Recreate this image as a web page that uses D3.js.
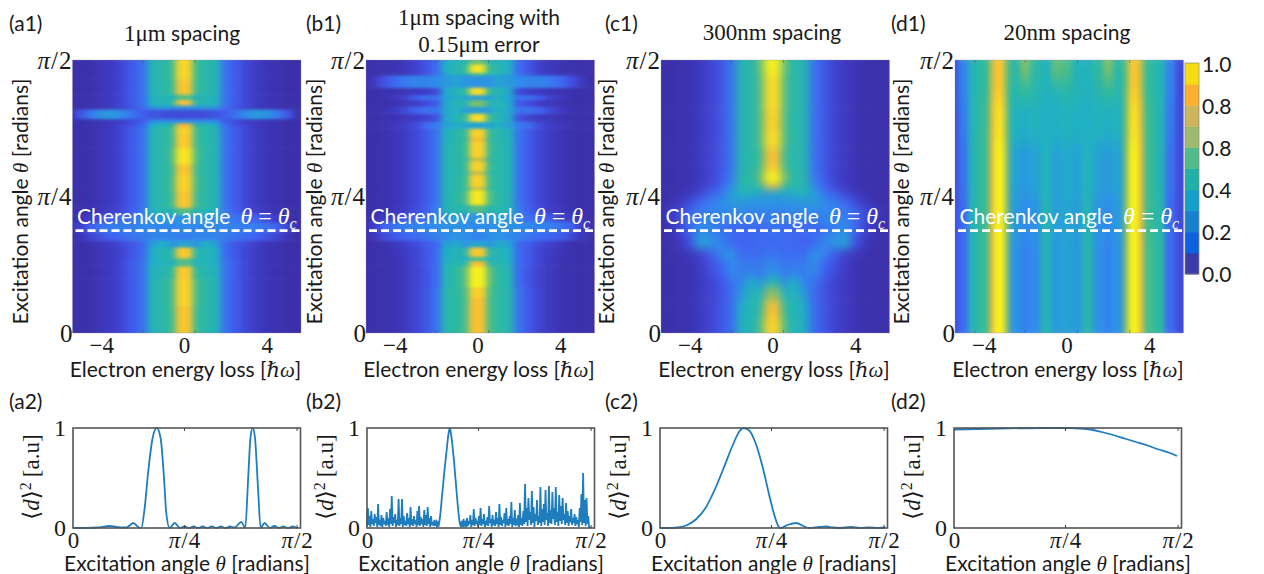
<!DOCTYPE html>
<html>
<head>
<meta charset="utf-8">
<script src="https://cdn.jsdelivr.net/npm/d3@7"></script>
<style>
  body { margin: 0; background: #fff; }
  text { font-family: Lato, "Open Sans", sans-serif; fill: #1a1a1a; }
  .serif { font-family: "Liberation Serif", "DejaVu Serif", serif; }
  .math { font-family: "Liberation Serif", "DejaVu Serif", serif; font-style: italic; }
</style>
</head>
<body>
<div id="chart"></div>
<script>
// half profiles: energy bins are mirrored around 0 for the three left maps
const halfEdges = [0.4, 0.75, 1.25, 1.75, 2.25, 2.75, 3.25, 3.75, 4.25, 4.75, 5.25, 6];

const a1Theta = [-0.05, 0.1, 0.2, 0.245, 0.275, 0.315, 0.34, 0.37, 0.405, 0.435, 0.46, 0.52, 0.58, 0.62, 0.68, 0.73, 0.755, 0.77, 0.785, 0.82, 0.835, 0.855, 0.875, 0.93, 1.05];
const a1Values = [
  [.88,.52,.45,.42,.22,.16,.11,.07,.04,.02,.01,.01],
  [.92,.54,.45,.42,.22,.16,.11,.07,.04,.02,.01,.01],
  [.9,.48,.43,.4,.22,.16,.11,.07,.04,.02,.01,.01],
  [.55,.4,.42,.38,.22,.16,.11,.07,.04,.02,.01,.01],
  [.9,.44,.42,.38,.2,.15,.1,.07,.04,.02,.01,.01],
  [.35,.3,.38,.34,.2,.15,.12,.08,.05,.02,.01,.01],
  [.25,.26,.26,.26,.24,.22,.2,.18,.14,.1,.04,.01],
  [.28,.26,.27,.27,.27,.25,.25,.25,.22,.18,.1,.02],
  [.3,.3,.32,.3,.26,.22,.2,.18,.13,.08,.03,.01],
  [.55,.42,.42,.4,.24,.17,.12,.09,.05,.03,.01,.01],
  [.88,.52,.45,.42,.22,.16,.11,.07,.04,.02,.01,.01],
  [.92,.54,.45,.42,.22,.16,.11,.07,.04,.02,.01,.01],
  [.88,.52,.45,.42,.22,.16,.11,.07,.04,.02,.01,.01],
  [.97,.56,.45,.42,.22,.16,.11,.07,.04,.02,.01,.01],
  [.9,.52,.45,.42,.22,.16,.11,.07,.04,.02,.01,.01],
  [.92,.52,.45,.42,.22,.16,.11,.07,.04,.02,.01,.01],
  [.8,.45,.42,.38,.2,.14,.1,.06,.04,.02,.01,.01],
  [.3,.28,.3,.28,.16,.12,.08,.06,.03,.02,.01,.01],
  [.12,.12,.13,.14,.17,.22,.28,.32,.3,.24,.15,.03],
  [.3,.3,.32,.3,.2,.14,.1,.06,.04,.02,.01,.01],
  [.85,.45,.42,.4,.22,.16,.11,.07,.04,.02,.01,.01],
  [.55,.4,.42,.4,.22,.16,.11,.07,.04,.02,.01,.01],
  [.88,.5,.45,.42,.22,.16,.11,.07,.04,.02,.01,.01],
  [.93,.52,.45,.42,.22,.16,.11,.07,.04,.02,.01,.01]
];

const b1Theta = [-0.05, 0.13, 0.17, 0.245, 0.265, 0.28, 0.315, 0.34, 0.37, 0.41, 0.44, 0.47, 0.525, 0.535, 0.58, 0.595, 0.63, 0.645, 0.705, 0.715, 0.75, 0.775, 0.805, 0.83, 0.855, 0.873, 0.9, 0.945, 0.955, 0.985, 1.05];
const b1Values = [
  [.86,.54,.47,.44,.22,.15,.1,.06,.03,.02,.01,.01],
  [.92,.55,.47,.44,.22,.15,.1,.06,.03,.02,.01,.01],
  [1,.6,.47,.42,.2,.14,.1,.06,.03,.02,.01,.01],
  [.85,.45,.44,.4,.2,.15,.1,.06,.03,.02,.01,.01],
  [.5,.38,.42,.38,.2,.15,.1,.06,.03,.02,.01,.01],
  [.9,.44,.42,.38,.2,.15,.1,.07,.04,.02,.01,.01],
  [.35,.3,.36,.34,.2,.16,.12,.09,.05,.02,.01,.01],
  [.26,.28,.3,.28,.25,.22,.2,.18,.16,.12,.05,.01],
  [.28,.28,.3,.3,.28,.27,.26,.25,.22,.18,.08,.02],
  [.3,.32,.34,.3,.26,.2,.18,.15,.1,.06,.02,.01],
  [.55,.42,.44,.42,.24,.17,.12,.08,.05,.03,.01,.01],
  [.98,.54,.46,.42,.22,.16,.11,.07,.04,.02,.01,.01],
  [.7,.46,.45,.42,.22,.16,.11,.07,.04,.02,.01,.01],
  [.92,.5,.45,.42,.22,.16,.11,.07,.04,.02,.01,.01],
  [.72,.46,.45,.42,.22,.16,.11,.07,.04,.02,.01,.01],
  [.92,.5,.45,.42,.22,.16,.11,.07,.04,.02,.01,.01],
  [.72,.46,.45,.42,.22,.16,.11,.07,.04,.02,.01,.01],
  [.92,.5,.45,.42,.22,.16,.11,.07,.04,.02,.01,.01],
  [.8,.46,.45,.4,.22,.16,.11,.07,.04,.02,.01,.01],
  [.92,.5,.44,.4,.22,.16,.11,.07,.04,.02,.01,.01],
  [.35,.35,.38,.34,.24,.2,.12,.08,.05,.03,.01,.01],
  [.95,.5,.42,.36,.14,.1,.07,.05,.03,.02,.01,.01],
  [.33,.33,.4,.36,.22,.22,.18,.12,.07,.03,.01,.01],
  [.62,.42,.42,.36,.16,.12,.08,.05,.03,.02,.01,.01],
  [.33,.33,.4,.34,.22,.22,.17,.1,.06,.03,.01,.01],
  [.95,.48,.42,.36,.12,.08,.06,.04,.03,.02,.01,.01],
  [.3,.3,.34,.32,.28,.26,.26,.24,.2,.14,.06,.01],
  [.55,.42,.4,.35,.2,.14,.08,.05,.03,.02,.01,.01],
  [.97,.48,.44,.38,.2,.14,.09,.05,.03,.02,.01,.01],
  [.6,.42,.42,.38,.2,.14,.09,.05,.03,.02,.01,.01]
];

const c1Theta = [-0.05, 0.06, 0.12, 0.17, 0.21, 0.27, 0.31, 0.36, 0.41, 0.46, 0.5, 0.53, 0.55, 0.595, 0.625, 0.68, 0.74, 0.82, 0.95, 1.05];
const c1Values = [
  [.92,.55,.42,.4,.2,.15,.1,.06,.03,.02,.01,.01],
  [.85,.48,.42,.38,.2,.15,.1,.06,.03,.02,.01,.01],
  [.65,.38,.42,.32,.2,.14,.1,.06,.03,.02,.01,.01],
  [.42,.27,.38,.26,.22,.15,.1,.06,.03,.02,.01,.01],
  [.28,.22,.25,.24,.28,.18,.13,.07,.03,.02,.01,.01],
  [.22,.2,.2,.2,.3,.26,.16,.1,.05,.02,.01,.01],
  [.2,.2,.19,.18,.2,.26,.3,.34,.14,.05,.02,.01],
  [.22,.2,.2,.2,.2,.22,.26,.28,.2,.1,.03,.01],
  [.25,.25,.26,.26,.26,.26,.26,.24,.2,.12,.05,.02],
  [.3,.3,.3,.32,.32,.28,.24,.2,.12,.06,.02,.01],
  [.35,.35,.4,.4,.33,.22,.16,.1,.05,.02,.01,.01],
  [.8,.48,.45,.45,.28,.18,.12,.07,.03,.02,.01,.01],
  [1,.62,.45,.45,.24,.16,.1,.06,.03,.02,.01,.01],
  [.88,.52,.45,.43,.22,.15,.1,.06,.03,.02,.01,.01],
  [.85,.5,.45,.43,.22,.15,.1,.06,.03,.02,.01,.01],
  [.95,.56,.45,.43,.22,.15,.1,.06,.03,.02,.01,.01],
  [.92,.55,.45,.43,.22,.15,.1,.06,.03,.02,.01,.01],
  [.95,.56,.45,.43,.22,.15,.1,.06,.03,.02,.01,.01],
  [1,.6,.45,.43,.22,.15,.1,.06,.03,.02,.01,.01]
];

// the 20nm map has its own bins, the two bright stripes sit at +-3.25
const d1Energy = [-6, -5.25, -4.75, -4.25, -3.75, -3.5, -3, -2.75, -2.25, -1.75, -1.25, -0.75, -0.25, 0.25, 0.75, 1.25, 1.75, 2.25, 2.75, 3, 3.5, 3.75, 4.25, 4.75, 5.25, 6];
const d1Theta = [-0.05, 0.35, 0.5, 0.7, 0.85, 0.93, 1.05];
const d1Values = [
  [.12,.2,.42,.5,.76,1,.64,.3,.26,.28,.42,.32,.34,.32,.44,.3,.26,.3,.64,1,.76,.52,.46,.2,.12],
  [.12,.2,.42,.5,.76,1,.64,.32,.28,.3,.42,.33,.35,.33,.42,.3,.28,.32,.64,1,.76,.5,.44,.2,.12],
  [.12,.22,.42,.5,.76,1,.64,.34,.32,.34,.4,.34,.36,.34,.4,.34,.32,.34,.64,1,.76,.5,.42,.22,.12],
  [.12,.24,.42,.5,.74,.96,.62,.4,.38,.4,.38,.38,.4,.38,.38,.4,.38,.4,.62,.96,.74,.5,.42,.24,.12],
  [.12,.26,.42,.48,.7,.9,.6,.44,.48,.44,.4,.42,.45,.42,.4,.44,.48,.44,.6,.9,.7,.48,.42,.26,.12],
  [.12,.26,.42,.48,.7,.88,.6,.46,.62,.46,.4,.58,.54,.4,.4,.46,.62,.46,.6,.88,.7,.48,.42,.26,.12]
];

const energyTicks = [-4, 0, 4];
const energyMarks = [-4.44, -2, 0.53, 3.05];
const angleTicks = [0, 0.5, 1];
const angleLabels = ['0', 'π/4', 'π/2'];

const heatStops = [0, 0.08, 0.18, 0.28, 0.38, 0.48, 0.6, 0.7, 0.8, 0.9, 1];
const heatColors = ['#3a2ea6', '#3f3cc8', '#4062f2', '#2f8ceb', '#1fb0c4', '#2fba9c', '#6cbf74', '#b8bc50', '#f6b53a', '#fbc92d', '#f8f01e'];

const barColors = ['#3a3aa8', '#0d62e0', '#1a80d0', '#10a0c8', '#1fb0a8', '#50bc8c', '#9cba70', '#cfb45e', '#fbb030', '#f7dc14'];
const barTicks = [0, 0.2, 0.4, 0.6, 0.8, 1];
const barLabels = ['0.0', '0.2', '0.4', '0.8', '0.8', '1.0'];

// line plots. theta is a fraction of the frame width, pi/2 falls at .985
const lineTicks = [0, 0.49, 0.985];

const a2Theta = [0, .06, .11, .16, .21, .235, .265, .29, .3, .315, .33, .35, .368, .385, .4, .41, .425, .447, .47, .49, .51, .53, .55, .57, .59, .61, .63, .65, .67, .69, .71, .74, .757, .77, .78, .79, .8, .812, .825, .842, .865, .885, .905, .925, .945, .965, .985];
const a2Power = [0, 0, .005, .02, .005, .005, .05, .005, 0, .2, .55, .9, 1, .9, .5, .15, 0, .05, 0, .015, 0, .015, 0, .015, 0, .015, 0, .015, 0, .015, .005, .06, 0, .5, .9, 1, .9, .45, 0, .05, 0, .02, 0, .015, 0, .015, 0];

const b2Power = [
  .02,.2,.03,.12,.01,.17,.04,.09,.02,.14,.05,.11,.01,.24,.03,.08,.02,.13,.01,.1,.04,.07,.02,.16,.03,.1,.01,.19,.04,.32,.02,.11,.05,.14,.01,.08,.03,.29,.02,.1,.04,.29,.01,.12,.03,.07,.02,.15,.04,.1,.01,.21,.03,.09,.02,.12,.04,.08,.01,.17,.03,.22,.02,.11,.04,.09,.01,.18,.03,.13,.02,.21,.04,.1,.01,.12,.03,.06,.02,.08,.04,.06,.01,.05,
  .03,.08,.15,.24,.34,.42,.52,.6,.68,.76,.84,.92,.97,1,.96,.9,.83,.74,.66,.55,.45,.35,.25,.16,.08,.03,
  .02,.07,.01,.09,.03,.05,.01,.1,.02,.07,.04,.13,.01,.08,.03,.19,.02,.1,.04,.07,.01,.12,.03,.2,.02,.09,.04,.14,.01,.07,.03,.11,.02,.22,.05,.09,.01,.13,.03,.08,.02,.16,.04,.1,.01,.24,.03,.11,.02,.08,.05,.15,.01,.2,.03,.09,.02,.12,.04,.26,.01,.1,.03,.18,.02,.07,.05,.13,.01,.25,.03,.1,.02,.17,.04,.44,.06,.2,.02,.3,.08,.16,.03,.37,.05,.21,.01,.14,.07,.28,.03,.12,.05,.41,.02,.19,.06,.24,.03,.38,.08,.15,.02,.42,.05,.18,.04,.36,.09,.2,.03,.41,.06,.16,.02,.33,.07,.22,.04,.3,.08,.14,.03,.25,.05,.17,.02,.12,.06,.19,.03,.1,.05,.14,.02,.11,.04,.08,.01,.2,.06,.34,.03,.55,.05,.28,.02,.3,.04,.12,.01,.02
];

const c2Theta = [0, .05, .08, .12, .16, .2, .24, .28, .32, .35, .367, .39, .42, .45, .48, .5, .52, .53, .56, .6, .63, .655, .7, .73, .76, .79, .84, .88, .92, .96, .99];
const c2Power = [0, 0, .005, .03, .09, .2, .38, .6, .83, .97, 1, .98, .85, .62, .33, .15, .02, 0, .03, .05, .02, 0, .01, .015, .005, 0, .01, 0, .005, 0, .005];

const d2Theta = [0, .2, .4, .5, .55, .6, .65, .7, .75, .8, .85, .9, .95, .98];
const d2Power = [.985, .995, 1, 1, .995, .985, .96, .93, .895, .86, .825, .785, .75, .72];

const w = 1264, h = 574;
const svg = d3.select('#chart').append('svg').attr('width', w).attr('height', h).style('display', 'block');
const defs = svg.append('defs');

const heatColor = d3.scaleLinear().domain(heatStops).range(heatColors).clamp(true);

const mirrored = (row) => [...row.slice(1).reverse(), ...row];
const halfToEdges = [...halfEdges.map((d) => -d).reverse(), ...halfEdges];

const panels = [
  { id: 'a', left: 72.5, letterX: 9, theta: a1Theta, values: a1Values.map(mirrored), energy: halfToEdges, ylabel: -51, blur: '3.4 1.6' },
  { id: 'b', left: 366, letterX: 306, theta: b1Theta, values: b1Values.map(mirrored), energy: halfToEdges, ylabel: -50, blur: '3.4 1.5' },
  { id: 'c', left: 661, letterX: 605, theta: c1Theta, values: c1Values.map(mirrored), energy: halfToEdges, ylabel: -53, blur: '4 4.5' },
  { id: 'd', left: 955, letterX: 891, theta: d1Theta, values: d1Values, energy: d1Energy, ylabel: -52, blur: '2.8 9' }
];
const panelW = 228.5, heatTop = 60, heatBottom = 333, lineTop = 428, lineBottom = 528;

function piLabel(sel, size) {
  // tick labels, pi in italics
  sel.each(function (d, i) {
    const t = d3.select(this).text(null).attr('class', 'serif').style('font-size', size + 'px');
    const label = angleLabels[i];
    if (label === '0') { t.text('0'); return; }
    t.style('letter-spacing', '1px');
    t.append('tspan').attr('class', 'math').text('π');
    t.append('tspan').text(label.slice(1));
  });
}

function angleLabel(g, x, y, transform) {
  const t = g.append('text').attr('text-anchor', 'middle').style('font-size', '21px');
  if (transform) t.attr('transform', transform); else t.attr('x', x).attr('y', y);
  t.append('tspan').text('Excitation angle ');
  t.append('tspan').attr('class', 'math').text('θ');
  t.append('tspan').text(' [radians]');
}

panels.forEach((p) => {
  const g = svg.append('g').attr('transform', `translate(${p.left},0)`);
  const x = d3.scaleLinear().domain([-5.39, 5.65]).range([0, panelW]);
  const y = d3.scaleLinear().domain([0, 1]).range([heatBottom, heatTop]);

  defs.append('filter').attr('id', 'soft' + p.id)
    .attr('x', '-5%').attr('y', '-8%').attr('width', '110%').attr('height', '116%')
    .attr('color-interpolation-filters', 'sRGB')
    .append('feGaussianBlur').attr('stdDeviation', p.blur);

  defs.append('clipPath').attr('id', 'clip' + p.id).append('rect')
    .attr('x', 0).attr('y', heatTop).attr('width', panelW).attr('height', heatBottom - heatTop);

  const cells = g.append('g').attr('clip-path', `url(#clip${p.id})`)
    .append('g').attr('filter', `url(#soft${p.id})`);

  p.values.forEach((row, r) => {
    cells.selectAll(null).data(row).enter().append('rect')
      .attr('x', (d, c) => x(p.energy[c]))
      .attr('width', (d, c) => x(p.energy[c + 1]) - x(p.energy[c]) + 0.5)
      .attr('y', y(p.theta[r + 1]))
      .attr('height', y(p.theta[r]) - y(p.theta[r + 1]) + 0.5)
      .attr('fill', (d) => heatColor(d));
  });

  // small marks along the top and the bottom of the map
  g.selectAll('.mark').data(energyMarks).enter().append('path')
    .attr('d', (d) => `M${x(d)},${heatTop}v3M${x(d)},${heatBottom}v-3`)
    .attr('stroke', '#444').attr('stroke-opacity', 0.45).attr('fill', 'none');
  g.append('rect').attr('y', heatTop).attr('width', panelW).attr('height', heatBottom - heatTop)
    .attr('fill', 'none').attr('stroke', '#8a8aa8').attr('stroke-opacity', 0.35);

  // axes
  const xAxis = g.append('g').attr('transform', `translate(0,${heatBottom})`)
    .call(d3.axisBottom(x).tickValues(energyTicks).tickSize(0).tickFormat((d) => (d < 0 ? '−' + -d : d)));
  xAxis.select('.domain').remove();
  xAxis.selectAll('text').attr('class', 'serif').attr('y', 5).attr('dy', '0.66em').style('font-size', '23px');

  const yAxis = g.append('g')
    .call(d3.axisLeft(y).tickValues(angleTicks).tickSize(0));
  yAxis.select('.domain').remove();
  yAxis.selectAll('text').attr('x', 0).call(piLabel, 25);

  const xl = g.append('text').attr('x', 113).attr('y', 377).attr('text-anchor', 'middle').style('font-size', '21px');
  xl.append('tspan').text('Electron energy loss [');
  xl.append('tspan').attr('class', 'math').text('ℏω');
  xl.append('tspan').text(']');

  angleLabel(g, 0, 0, `translate(${p.ylabel + 6},201.5) rotate(-90)`);

  // Cherenkov line
  const cherenkov = 0.375;
  g.append('line').attr('x1', 3).attr('x2', panelW).attr('y1', y(cherenkov)).attr('y2', y(cherenkov))
    .attr('stroke', '#fff').attr('stroke-width', 2.6).attr('stroke-dasharray', '8 4');
  const ct = g.append('text').attr('x', 4.5).attr('y', 224).style('font-size', '21px');
  ct.append('tspan').style('fill', '#fff').text('Cherenkov angle');
  ct.append('tspan').attr('class', 'math').attr('dx', 10).style('fill', '#fff').style('font-size', '24px').text('θ');
  ct.append('tspan').attr('class', 'serif').attr('dx', 6).style('fill', '#fff').style('font-size', '24px').text('=');
  ct.append('tspan').attr('class', 'math').attr('dx', 6).style('fill', '#fff').style('font-size', '24px').text('θ');
  ct.append('tspan').attr('class', 'math').attr('dy', 5).style('fill', '#fff').style('font-size', '16px').text('c');

  // panel letter
  g.append('text').attr('x', p.letterX - p.left).attr('y', 31).style('font-size', '21px').text(`(${p.id}1)`);
  g.append('text').attr('x', p.letterX - p.left).attr('y', 409).style('font-size', '21px').text(`(${p.id}2)`);
});

// titles
function title(cx, cy, parts) {
  const t = svg.append('text').attr('x', cx).attr('y', cy).attr('text-anchor', 'middle').style('font-size', '21px');
  parts.forEach((part) => {
    const s = t.append('tspan').text(part[0]);
    if (part[1]) s.attr('class', 'serif').style('font-size', '23px');
  });
}
title(182, 41, [['1μm', true], [' spacing']]);
title(479, 25, [['1μm', true], [' spacing with']]);
title(479, 52, [['0.15μm', true], [' error']]);
title(772, 40, [['300nm', true], [' spacing']]);
title(1067, 40, [['20nm', true], [' spacing']]);

// colour bar
const barY = d3.scaleLinear().domain([0, 1]).range([274, 63]);
const bands = d3.range(barColors.length);
svg.append('g').selectAll('rect').data(bands).enter().append('rect')
  .attr('x', 1185).attr('width', 14)
  .attr('y', (d) => barY((d + 1) / barColors.length))
  .attr('height', barY(0) - barY(1 / barColors.length) + 0.5)
  .attr('fill', (d) => barColors[d]);
svg.append('rect').attr('x', 1185).attr('y', 63).attr('width', 14).attr('height', 211)
  .attr('fill', 'none').attr('stroke', '#8a8a70').attr('stroke-opacity', 0.7);
const barAxis = svg.append('g').attr('transform', 'translate(1199,0)')
  .call(d3.axisRight(barY.copy().range([275, 65])).tickValues(barTicks).tickSize(0).tickFormat((d, i) => barLabels[i]));
barAxis.select('.domain').remove();
barAxis.selectAll('text').attr('x', 3).style('font-size', '21px');

// line plots
const lineSeries = [
  { left: 73, theta: a2Theta, power: a2Power, curve: d3.curveMonotoneX },
  { left: 367, theta: b2Power.map((d, i) => (i / (b2Power.length - 1)) * 0.98), power: b2Power, curve: d3.curveLinear },
  { left: 660, theta: c2Theta, power: c2Power, curve: d3.curveMonotoneX },
  { left: 954, theta: d2Theta, power: d2Power, curve: d3.curveMonotoneX }
];

lineSeries.forEach((s) => {
  const g = svg.append('g').attr('transform', `translate(${s.left},0)`);
  const x = d3.scaleLinear().domain([0, 1]).range([0, panelW - 1]);
  const y = d3.scaleLinear().domain([0, 1]).range([lineBottom, lineTop]);

  const line = d3.line().x((d) => x(d[0])).y((d) => y(d[1])).curve(s.curve);
  g.append('path').datum(d3.zip(s.theta, s.power))
    .attr('d', line).attr('fill', 'none').attr('stroke', '#1f7dbd').attr('stroke-width', 1.8);

  g.append('rect').attr('y', lineTop).attr('width', panelW - 1).attr('height', lineBottom - lineTop)
    .attr('fill', 'none').attr('stroke', '#555').attr('stroke-width', 1.6);

  g.selectAll('.tick-mark').data(lineTicks.slice(1)).enter().append('path')
    .attr('d', (d) => `M${x(d)},${lineTop}v3M${x(d)},${lineBottom}v-3`)
    .attr('stroke', '#444').attr('fill', 'none');

  const xAxis = g.append('g').attr('transform', `translate(0,${lineBottom})`)
    .call(d3.axisBottom(x).tickValues(lineTicks).tickSize(0));
  xAxis.select('.domain').remove();
  xAxis.selectAll('text').attr('y', 5).attr('dy', '0.66em').call(piLabel, 23);

  const yAxis = g.append('g').call(d3.axisLeft(y).tickValues([0, 1]).tickSize(0).tickFormat((d) => d));
  yAxis.select('.domain').remove();
  yAxis.selectAll('text').attr('class', 'serif').attr('x', -7).style('font-size', '24px');

  angleLabel(g, 114, 570.5);

  const yl = g.append('text').attr('class', 'serif').attr('text-anchor', 'middle')
    .attr('transform', 'translate(-34,477) rotate(-90)').style('font-size', '23px');
  yl.append('tspan').text('⟨');
  yl.append('tspan').attr('class', 'math').text('d');
  yl.append('tspan').text('⟩');
  yl.append('tspan').attr('dy', -8).style('font-size', '16px').text('2');
  yl.append('tspan').attr('dy', 8).attr('dx', 5).text('[a.u]');
});
</script>
</body>
</html>
